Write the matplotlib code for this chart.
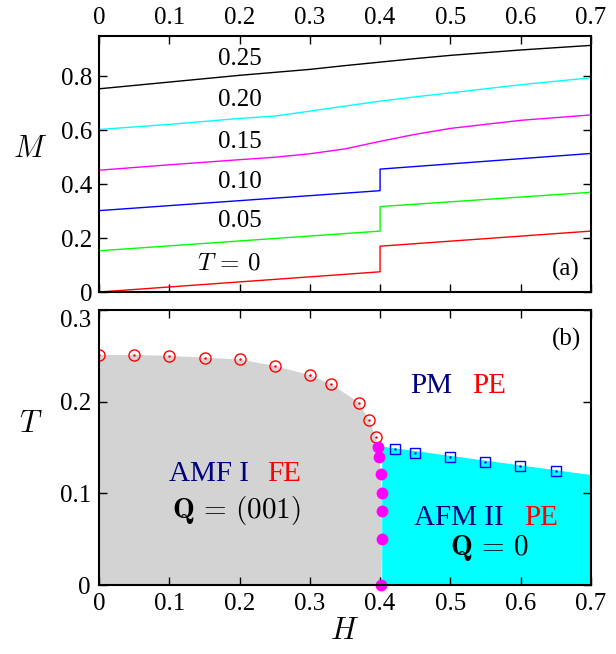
import matplotlib
matplotlib.use('Agg')
import matplotlib.pyplot as plt

plt.rcParams['font.family'] = ['Liberation Serif', 'DejaVu Serif']
plt.rcParams['mathtext.fontset'] = 'cm'

# panel (a): magnetisation curves M(H) for several temperatures
H_lo = [0.0, 0.4]
H_hi = [0.4, 0.7]
M_T000_lo = [0.0, 0.075]
M_T000_hi = [0.170, 0.226]
M_T005_lo = [0.153, 0.226]
M_T005_hi = [0.317, 0.370]
M_T010_lo = [0.302, 0.376]
M_T010_hi = [0.456, 0.514]

H_smooth = [0.0, 0.1, 0.2, 0.25, 0.3, 0.35, 0.4, 0.45, 0.5, 0.6, 0.7]
M_T015 = [0.452, 0.472, 0.491, 0.500, 0.513, 0.531, 0.559, 0.585, 0.607, 0.637, 0.657]
M_T020 = [0.603, 0.622, 0.644, 0.653, 0.671, 0.690, 0.708, 0.724, 0.739, 0.769, 0.795]
M_T025 = [0.754, 0.779, 0.804, 0.815, 0.826, 0.840, 0.853, 0.866, 0.878, 0.898, 0.915]

curve_labels = ['0.25', '0.20', '0.15', '0.10', '0.05', r'$T\,=\,0$']
label_M = [0.863, 0.711, 0.556, 0.407, 0.264, 0.107]

# panel (b): phase diagram
H_circ = [0.0, 0.05, 0.1, 0.15, 0.2, 0.25, 0.3, 0.33, 0.37, 0.384, 0.394]
T_circ = [0.251, 0.251, 0.250, 0.248, 0.246, 0.239, 0.229, 0.219, 0.199, 0.180, 0.161]
H_dot = [0.397, 0.399, 0.401, 0.403, 0.403, 0.403, 0.402]
T_dot = [0.150, 0.140, 0.121, 0.100, 0.081, 0.050, 0.0]
H_sq = [0.421, 0.450, 0.500, 0.550, 0.599, 0.650]
T_sq = [0.148, 0.144, 0.1395, 0.134, 0.130, 0.124]
# upper edge of the AFM II region
H_edge = [0.403, 0.7]
T_edge = [0.151, 0.120]

fig = plt.figure(figsize=(6.16, 6.54), dpi=100)
ax1 = fig.add_axes([0.161, 0.5535, 0.798, 0.3915])
ax2 = fig.add_axes([0.161, 0.1055, 0.798, 0.4205])

# ---- panel (a)
for lo, hi, c in [(M_T000_lo, M_T000_hi, 'red'),
                  (M_T005_lo, M_T005_hi, '#00ff00'),
                  (M_T010_lo, M_T010_hi, 'blue')]:
    ax1.plot(H_lo + H_hi, lo + hi, color=c, lw=1.0)
ax1.plot(H_smooth, M_T015, color='magenta', lw=1.0)
ax1.plot(H_smooth, M_T020, color='cyan', lw=1.0)
ax1.plot(H_smooth, M_T025, color='black', lw=1.0)

for s, m in zip(curve_labels, label_M):
    ax1.text(0.2 if s[0] == '0' else 0.185, m, s, ha='center', va='center', fontsize=18)
ax1.text(0.665, 0.082, '(a)', ha='center', va='center', fontsize=18)

ax1.set_xlim(0, 0.7)
ax1.set_ylim(0, 0.95)
ax1.set_xticks([0, 0.1, 0.2, 0.3, 0.4, 0.5, 0.6, 0.7])
ax1.set_xticklabels(['0', '0.1', '0.2', '0.3', '0.4', '0.5', '0.6', '0.7'])
ax1.set_yticks([0, 0.2, 0.4, 0.6, 0.8])
ax1.set_yticklabels(['0', '0.2', '0.4', '0.6', '0.8'])
ax1.tick_params(direction='in', top=True, right=True, labeltop=True,
                labelbottom=False, length=6, width=1.0, labelsize=18, pad=5)
ax1.set_ylabel(r'$M$', fontsize=22, rotation=0)
ax1.yaxis.set_label_coords(-0.14, 0.5)

# ---- panel (b)
gray_H = [0.0] + H_circ + H_dot
gray_T = [0.0] + T_circ + T_dot
ax2.fill(gray_H, gray_T, color='#d3d3d3', lw=0, zorder=1)
cyan_H = [H_edge[0]] + H_edge + [H_edge[-1]]
cyan_T = [0.0] + T_edge + [0.0]
ax2.fill(cyan_H, cyan_T, color='cyan', lw=0, zorder=1)

ax2.plot(H_circ, T_circ, 'o', mfc='none', mec='red', ms=8, mew=1.0, zorder=3)
ax2.plot(H_circ, T_circ, '.', color='red', ms=1.5, zorder=3)
ax2.plot(H_sq, T_sq, 's', mfc='none', mec='blue', ms=7.5, mew=1.0, zorder=3)
ax2.plot(H_sq, T_sq, '.', color='blue', ms=1.5, zorder=3)
ax2.plot(H_dot, T_dot, 'o', color='magenta', ms=8.5, mec='none', zorder=4, clip_on=False)

fs = 21
ax2.text(0.473, 0.217, 'PM', color='navy', ha='center', va='center', fontsize=fs)
ax2.text(0.556, 0.217, 'PE', color='red', ha='center', va='center', fontsize=fs)
ax2.text(0.157, 0.121, 'AMF I', color='navy', ha='center', va='center', fontsize=fs)
ax2.text(0.264, 0.121, 'FE', color='red', ha='center', va='center', fontsize=fs)
ax2.text(0.196, 0.0815, r'$\mathbf{Q}\,=\,(001)$', ha='center', va='center', fontsize=fs)
ax2.text(0.512, 0.073, 'AFM II', color='navy', ha='center', va='center', fontsize=fs)
ax2.text(0.630, 0.073, 'PE', color='red', ha='center', va='center', fontsize=fs)
ax2.text(0.556, 0.040, r'$\mathbf{Q}\,=\,0$', ha='center', va='center', fontsize=fs)
ax2.text(0.665, 0.268, '(b)', ha='center', va='center', fontsize=18)

ax2.set_xlim(0, 0.7)
ax2.set_ylim(0, 0.3)
ax2.set_xticks([0, 0.1, 0.2, 0.3, 0.4, 0.5, 0.6, 0.7])
ax2.set_xticklabels(['0', '0.1', '0.2', '0.3', '0.4', '0.5', '0.6', '0.7'])
ax2.set_yticks([0, 0.1, 0.2, 0.3])
ax2.set_yticklabels(['0', '0.1', '0.2', '0.3'])
ax2.yaxis.get_ticklabels()[-1].set_va('top')
ax2.tick_params(direction='in', top=True, right=True, length=6, width=1.0,
                labelsize=18, pad=6)
ax2.set_xlabel(r'$H$', fontsize=22)
ax2.set_ylabel(r'$T$', fontsize=22, rotation=0)
ax2.yaxis.set_label_coords(-0.14, 0.53)
ax2.xaxis.set_label_coords(0.5, -0.115)

for ax in (ax1, ax2):
    for sp in ax.spines.values():
        sp.set_linewidth(1.5)
        sp.set_zorder(5)

fig.savefig('out.png', dpi=100)
